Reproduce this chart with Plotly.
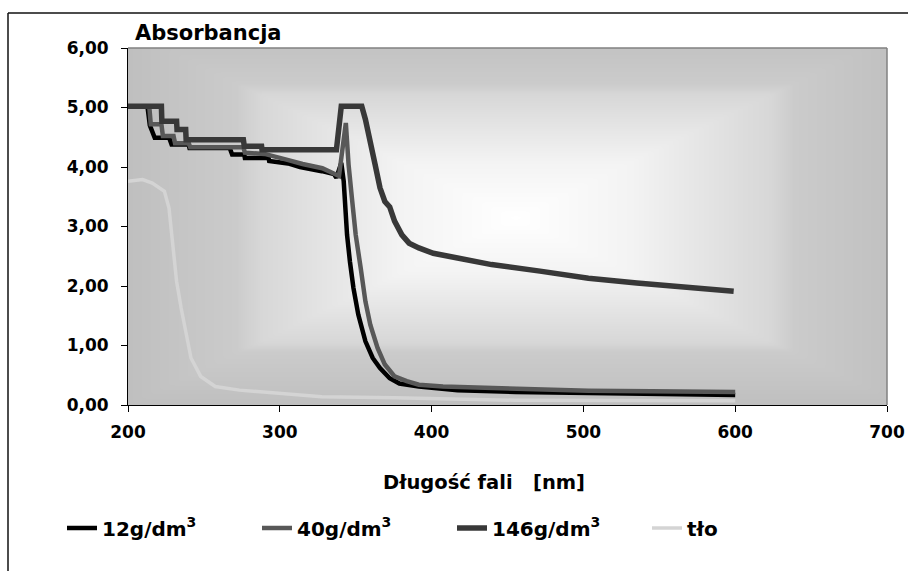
import numpy as np
import plotly.graph_objects as go

# ---- data ----
x_12 = [200, 212.8, 214.4, 217.6, 227.1, 228.7, 239.9, 240.5, 267, 268.6, 276.6, 277, 292.6, 293,
        305.4, 313.3, 327.7, 335.7, 337.3, 340.5, 342.1, 343, 344.3, 346.2, 348.5, 351.7, 356.4,
        361.2, 366, 372.4, 378.8, 391.6, 417.1, 455.4, 503.3, 544.8, 600]
y_12 = [5.02, 5.02, 4.70, 4.49, 4.49, 4.38, 4.38, 4.32, 4.32, 4.21, 4.21, 4.15, 4.15, 4.10,
        4.06, 4.00, 3.93, 3.88, 3.82, 4.07, 3.76, 3.31, 2.86, 2.41, 1.97, 1.52, 1.07,
        0.79, 0.62, 0.45, 0.36, 0.31, 0.25, 0.22, 0.20, 0.18, 0.17]

x_40 = [200, 214, 215, 222, 223, 230, 231, 240, 241, 276, 277, 290, 305, 315, 328, 336, 339,
        343.5, 345.3, 347.5, 350, 353.3, 356.4, 359.6, 364.4, 369.2, 375.6, 383.6, 391.6,
        407.5, 433, 471.4, 503.3, 544.8, 600]
y_40 = [5.02, 5.02, 4.72, 4.72, 4.52, 4.52, 4.40, 4.40, 4.33, 4.33, 4.24, 4.22, 4.12, 4.05, 3.98, 3.88, 3.85,
        4.74, 4.04, 3.48, 2.86, 2.30, 1.74, 1.35, 0.96, 0.68, 0.48, 0.40, 0.34,
        0.31, 0.29, 0.26, 0.24, 0.23, 0.22]

x_146 = [200, 222, 222.3, 232, 232.3, 238, 238.3, 276, 276.6, 288, 288.3, 337.3, 340.5, 354,
         356.4, 359.6, 362.8, 366, 369.2, 372.4, 375.6, 380.4, 385.2, 391.6, 401.1, 417.1,
         439.5, 471.4, 503.3, 535.2, 567.2, 599]
y_146 = [5.02, 5.02, 4.77, 4.77, 4.63, 4.63, 4.46, 4.46, 4.35, 4.35, 4.29, 4.29, 5.02, 5.02,
         4.80, 4.37, 4.04, 3.65, 3.42, 3.33, 3.09, 2.86, 2.72, 2.64, 2.55, 2.47,
         2.36, 2.25, 2.13, 2.05, 1.97, 1.91]

x_tlo = [200, 209.6, 216, 224, 227, 228.7, 232, 235, 238.3, 241.5, 247.9, 257.5, 273.4, 295.8,
         327.7, 375.6, 455, 600]
y_tlo = [3.76, 3.79, 3.73, 3.59, 3.31, 2.86, 2.08, 1.63, 1.18, 0.79, 0.48, 0.31, 0.25, 0.20,
         0.14, 0.12, 0.08, 0.07]

series_names = ["12g/dm<sup>3</sup>", "40g/dm<sup>3</sup>", "146g/dm<sup>3</sup>", "tło"]
x_ticks = [200, 300, 400, 500, 600, 700]
y_ticks = [0, 1, 2, 3, 4, 5, 6]

FONT = "DejaVu Sans, sans-serif"

fig = go.Figure()

# plot-area background: rectangular "from centre" gradient (decoration)
gx = np.linspace(200, 700, 151)
gy = np.linspace(0, 6, 91)
cx, cy, hw, hh = 455.0, 3.15, 255.0, 3.15
GX, GY = np.meshgrid((gx[:-1] + gx[1:]) / 2, (gy[:-1] + gy[1:]) / 2)
T = np.clip(np.maximum(np.abs(GX - cx) / hw, np.abs(GY - cy) / hh), 0, 1)
fig.add_trace(go.Heatmap(
    x=gx, y=gy, z=T, zmin=0, zmax=1, showscale=False, hoverinfo="skip",
    colorscale=[[0, "#ffffff"], [0.3, "#f3f3f3"], [0.66, "#d7d7d7"], [0.72, "#cbcbcb"], [1, "#bfbfbf"]],
    zsmooth="best", showlegend=False))

fig.add_trace(go.Scatter(x=x_tlo, y=y_tlo, mode="lines", name=series_names[3], legendrank=4,
                         line=dict(color="#d4d4d4", width=3.5)))
fig.add_trace(go.Scatter(x=x_12, y=y_12, mode="lines", name=series_names[0], legendrank=1,
                         line=dict(color="#000000", width=4.5)))
fig.add_trace(go.Scatter(x=x_40, y=y_40, mode="lines", name=series_names[1], legendrank=2,
                         line=dict(color="#585858", width=4.5)))
fig.add_trace(go.Scatter(x=x_146, y=y_146, mode="lines", name=series_names[2], legendrank=3,
                         line=dict(color="#383838", width=5.5)))

L, R, T_, B = 128, 21, 48, 166
W, H = 908, 571
pw, ph = W - L - R, H - T_ - B

def px_x(p):
    return (p - L) / pw

def px_y(p):
    return (H - B - p) / ph

fig.update_layout(
    width=W, height=H,
    margin=dict(l=L, r=R, t=T_, b=B, autoexpand=False),
    paper_bgcolor="white", plot_bgcolor="#c0c0c0",
    separators=",.",
    font=dict(family=FONT, size=17, color="black"),
    showlegend=True,
    legend=dict(orientation="h", x=px_x(62), xanchor="left", y=px_y(528), yanchor="middle",
                entrywidth=150, entrywidthmode="pixels", bgcolor="rgba(0,0,0,0)",
                font=dict(family=FONT, size=20, color="black", weight="bold"),
                itemwidth=30, tracegroupgap=0),
    xaxis=dict(range=[200, 700], tickvals=x_ticks, ticks="outside", ticklen=6, tickcolor="black",
               showline=True, linecolor="black", linewidth=1, showgrid=False, zeroline=False,
               tickfont=dict(family=FONT, size=17, weight="bold"), ticklabelstandoff=6),
    yaxis=dict(range=[0, 6], tickvals=y_ticks, tickformat=".2f", ticks="outside", ticklen=6,
               tickcolor="black", showline=True, linecolor="black", linewidth=1, showgrid=False,
               zeroline=False, tickfont=dict(family=FONT, size=17, weight="bold"),
               ticklabelstandoff=9),
    hovermode=False,
    annotations=[
        dict(text="<b>Absorbancja</b>", xref="paper", yref="paper", x=px_x(133), y=px_y(33),
             xanchor="left", yanchor="middle", showarrow=False, font=dict(family=FONT, size=21)),
        dict(text="<b>Długość fali   [nm]</b>", xref="paper", yref="paper", x=px_x(484), y=px_y(482),
             xanchor="center", yanchor="middle", showarrow=False, font=dict(family=FONT, size=19.5)),
    ],
    shapes=[
        dict(type="line", xref="paper", yref="paper", x0=0, x1=1, y0=1, y1=1,
             line=dict(color="#808080", width=1.5)),
        dict(type="line", xref="paper", yref="paper", x0=1, x1=1, y0=0, y1=1,
             line=dict(color="#808080", width=1.5)),
        dict(type="line", xref="paper", yref="paper", x0=px_x(8), x1=px_x(910), y0=px_y(13), y1=px_y(13),
             line=dict(color="#111111", width=1.5)),
        dict(type="line", xref="paper", yref="paper", x0=px_x(8), x1=px_x(8), y0=px_y(13), y1=px_y(575),
             line=dict(color="#111111", width=1.5)),
    ],
)

fig.write_html("out.html", config={"displayModeBar": False},
               post_script="document.body.style.margin='0';document.body.style.overflow='hidden';")
